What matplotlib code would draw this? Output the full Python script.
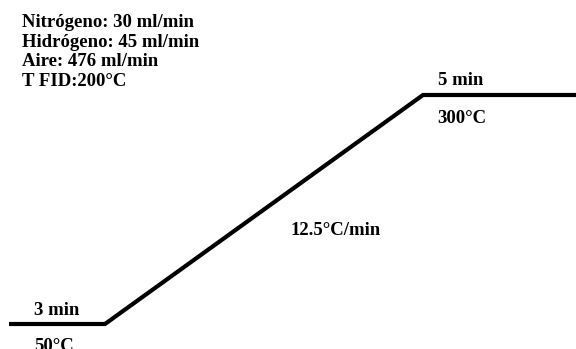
import matplotlib
matplotlib.use("Agg")
import matplotlib.pyplot as plt

# Oven temperature program (schematic)
node_x = [9, 105, 423, 576]          # schematic horizontal positions of the program nodes
node_temp = [50, 50, 300, 300]       # oven temperature at each node, °C
hold_labels = ["3 min", "5 min"]
temp_labels = ["50°C", "300°C"]
ramp_label = "12.5°C/min"
conditions = [
    "Nitrógeno: 30 ml/min",
    "Hidrógeno: 45 ml/min",
    "Aire: 476 ml/min",
    "T FID:200°C",
]

W, H, DPI = 576, 349, 100
fig = plt.figure(figsize=(W / DPI, H / DPI), dpi=DPI)
ax = fig.add_axes([0, 0, 1, 1])
ax.set_xlim(0, W)
ax.set_ylim(22.7, 403.7)
ax.axis("off")

font = dict(family="Liberation Serif", weight="bold", size=13.5, color="black")

ax.plot(node_x, node_temp, color="black", lw=3.0, solid_joinstyle="miter",
        solid_capstyle="butt")

# hold-time labels above the plateaus, temperatures below
ax.text(node_x[0] + 25, node_temp[0] + 9.8, hold_labels[0], ha="left", va="baseline", **font)
ax.text(node_x[0] + 25, node_temp[0] - 15.8, temp_labels[0], ha="left", va="top", **font)
ax.text(node_x[2] + 15, node_temp[2] + 11, hold_labels[1], ha="left", va="baseline", **font)
ax.text(node_x[2] + 14, node_temp[2] - 30.6, temp_labels[1], ha="left", va="baseline", **font)

# ramp rate label
ax.text(290, 147, ramp_label, ha="left", va="baseline", **font)

# detector gas conditions
for i, line in enumerate(conditions):
    fig.text(22 / W, 1 - (27 + 19.7 * i) / H, line, ha="left", va="baseline", **font)

fig.savefig("out.png", dpi=DPI)
